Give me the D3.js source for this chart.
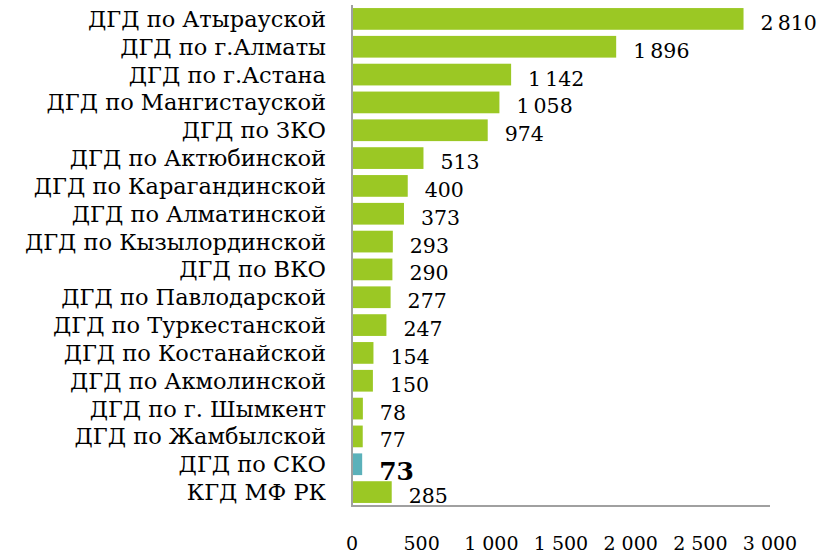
<!DOCTYPE html>
<html>
<head>
<meta charset="utf-8">
<script src="https://cdn.jsdelivr.net/npm/d3@7"></script>
<style>
  body { margin: 0; background: #fff; }
  .cat { font-family: "DejaVu Serif", serif; font-size: 22.5px; fill: #000; }
  .val { font-family: "DejaVu Serif", serif; font-size: 20.5px; fill: #000; }
  .tick-label { font-family: "DejaVu Serif", serif; font-size: 19px; fill: #000; }
</style>
</head>
<body>
<div id="chart"></div>
<script>
const categories = [
  "ДГД по Атырауской", "ДГД по г.Алматы", "ДГД по г.Астана", "ДГД по Мангистауской",
  "ДГД по ЗКО", "ДГД по Актюбинской", "ДГД по Карагандинской", "ДГД по Алматинской",
  "ДГД по Кызылординской", "ДГД по ВКО", "ДГД по Павлодарской", "ДГД по Туркестанской",
  "ДГД по Костанайской", "ДГД по Акмолинской", "ДГД по г. Шымкент", "ДГД по Жамбылской",
  "ДГД по СКО", "КГД МФ РК"
];
const values = [2810, 1896, 1142, 1058, 974, 513, 400, 373, 293, 290, 277, 247, 154, 150, 78, 77, 73, 285];
const highlight = "ДГД по СКО";
const xTicks = [0, 500, 1000, 1500, 2000, 2500, 3000];

const width = 819, height = 554;
const margin = {top: 5, left: 352, right: 49, bottom: 48};

const data = categories.map((c, i) => ({name: c, value: values[i]}));

const svg = d3.select("#chart").append("svg")
  .attr("width", width)
  .attr("height", height);

const x = d3.scaleLinear()
  .domain([0, 3000])
  .range([margin.left, width - margin.right]);

const y = d3.scaleBand()
  .domain(categories)
  .range([margin.top, height - margin.bottom])
  .paddingInner(0.22)
  .paddingOuter(0.11);

const fmt = (v, sep) => d3.format(",")(v).replace(/,/g, sep);

svg.selectAll("rect.bar")
  .data(data)
  .join("rect")
  .attr("class", "bar")
  .attr("x", x(0))
  .attr("y", d => y(d.name))
  .attr("width", d => x(d.value) - x(0))
  .attr("height", y.bandwidth())
  .attr("fill", d => d.name === highlight ? "#5bb1ba" : "#9bc824");

// axis lines
svg.append("line")
  .attr("x1", x(0)).attr("x2", x(0))
  .attr("y1", margin.top).attr("y2", height - margin.bottom)
  .attr("stroke", "#a0a0a0").attr("stroke-width", 2);
svg.append("line")
  .attr("x1", x(0) - 1).attr("x2", x(3000))
  .attr("y1", height - margin.bottom).attr("y2", height - margin.bottom)
  .attr("stroke", "#a0a0a0").attr("stroke-width", 2);

svg.selectAll("text.cat")
  .data(data)
  .join("text")
  .attr("class", "cat")
  .attr("x", margin.left - 26)
  .attr("y", d => y(d.name) + y.bandwidth() / 2 + 8)
  .attr("text-anchor", "end")
  .text(d => d.name);

svg.selectAll("text.val")
  .data(data)
  .join("text")
  .attr("class", "val")
  .attr("x", d => x(d.value) + 17)
  .attr("y", d => y(d.name) + y.bandwidth() / 2 + (d.name === highlight ? 16 : 11))
  .style("font-weight", d => d.name === highlight ? "bold" : null)
  .style("font-size", d => d.name === highlight ? "25px" : null)
  .text(d => fmt(d.value, "\u2009"));

svg.selectAll("text.tick-label")
  .data(xTicks)
  .join("text")
  .attr("class", "tick-label")
  .attr("x", d => x(d))
  .attr("y", 550)
  .attr("text-anchor", "middle")
  .text(d => fmt(d, " "));
</script>
</body>
</html>
